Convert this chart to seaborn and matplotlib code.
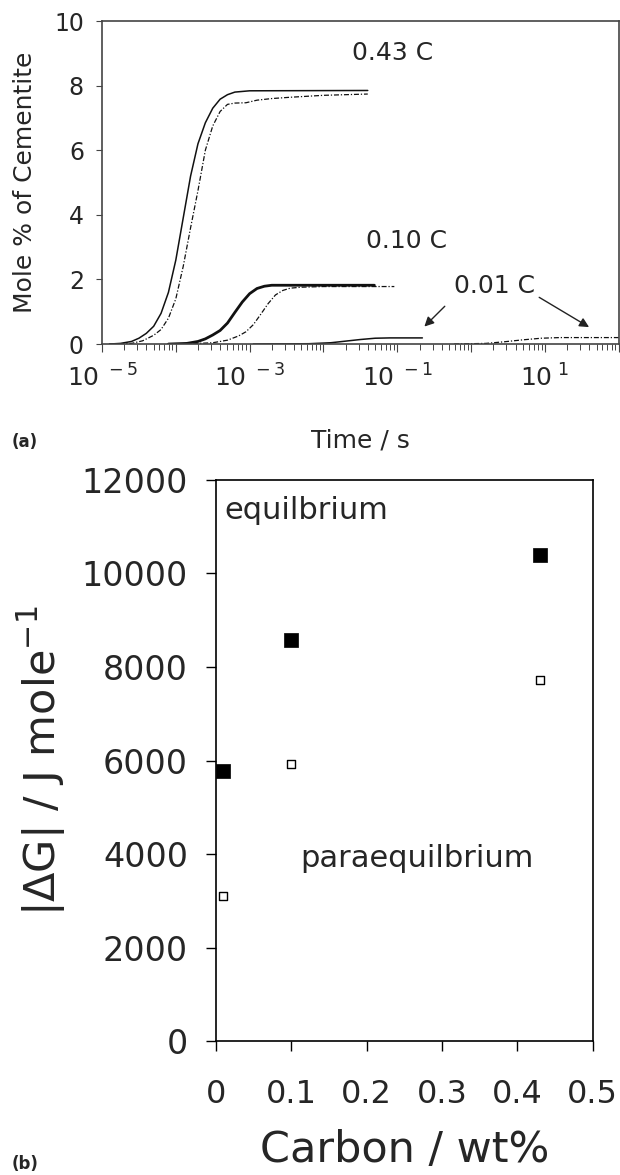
import numpy as np
import pandas as pd
import matplotlib
matplotlib.use('Agg')
import matplotlib.pyplot as plt
import matplotlib.ticker as mticker
import seaborn as sns

# (a) mole % cementite vs time -- times stored as log10(t / s)
lt_043_eq = [-4.9, -4.75, -4.6, -4.5, -4.4, -4.3, -4.2, -4.1, -4.0, -3.9, -3.8, -3.7, -3.6, -3.5,
             -3.4, -3.3, -3.2, -3.0, -1.4]
y_043_eq = [0.0, 0.02, 0.08, 0.18, 0.33, 0.55, 0.95, 1.6, 2.6, 3.9, 5.2, 6.2, 6.85, 7.3,
            7.58, 7.72, 7.8, 7.84, 7.85]
lt_043_pe = [-4.9, -4.6, -4.45, -4.3, -4.2, -4.1, -4.0, -3.9, -3.8, -3.7, -3.6, -3.5, -3.4, -3.3,
             -3.2, -3.05, -2.9, -2.7, -2.45, -2.0, -1.4]
y_043_pe = [0.0, 0.02, 0.1, 0.27, 0.45, 0.8, 1.4, 2.4, 3.6, 4.75, 6.0, 6.75, 7.2, 7.42,
            7.46, 7.47, 7.55, 7.6, 7.64, 7.7, 7.74]

lt_010_eq = [-4.1, -3.85, -3.7, -3.6, -3.5, -3.4, -3.3, -3.2, -3.1, -3.0, -2.9, -2.8, -2.7, -1.31]
y_010_eq = [0.0, 0.02, 0.08, 0.16, 0.28, 0.42, 0.65, 0.98, 1.3, 1.56, 1.72, 1.79, 1.82, 1.82]
lt_010_pe = [-3.9, -3.5, -3.3, -3.15, -3.05, -2.95, -2.85, -2.75, -2.65, -2.55, -2.45, -2.3, -2.0, -1.04]
y_010_pe = [0.0, 0.04, 0.12, 0.25, 0.38, 0.6, 0.92, 1.25, 1.52, 1.66, 1.73, 1.76, 1.78, 1.78]

lt_001_eq = [-2.95, -2.2, -1.9, -1.7, -1.5, -1.3, -1.1, -0.66]
y_001_eq = [0.0, 0.01, 0.04, 0.09, 0.14, 0.18, 0.19, 0.19]
lt_001_pe = [-0.23, 0.2, 0.45, 0.7, 0.95, 1.2, 2.0]
y_001_pe = [0.0, 0.02, 0.07, 0.13, 0.18, 0.2, 0.2]

# (b) driving force vs carbon content
carbon = [0.01, 0.10, 0.43]
dg_equil = [5780, 8580, 10400]
dg_para = [3100, 5930, 7720]

sns.set_style('ticks')
plt.rcParams['font.family'] = ['DejaVu Sans']
plt.rcParams['mathtext.fontset'] = 'dejavusans'

fig = plt.figure(figsize=(6.2, 11.75), dpi=100)
ax1 = fig.add_axes([0.1645, 0.7072, 0.8335, 0.2749])
ax2 = fig.add_axes([0.348, 0.114, 0.608, 0.4775])

# ---- panel (a)
ax1.set_xscale('log')
dash = (0, (4, 1.5, 1, 1.5))
curves = [
    (lt_043_eq, y_043_eq, '-', 1.1),
    (lt_043_pe, y_043_pe, dash, 0.9),
    (lt_010_eq, y_010_eq, '-', 2.0),
    (lt_010_pe, y_010_pe, dash, 0.9),
    (lt_001_eq, y_001_eq, '-', 1.1),
    (lt_001_pe, y_001_pe, dash, 0.9),
]
for lt, y, ls, lw in curves:
    df = pd.DataFrame({'t': 10.0 ** np.array(lt), 'y': y})
    sns.lineplot(data=df, x='t', y='y', ax=ax1, color='#111111', lw=lw,
                 linestyle=ls, estimator=None, sort=False)

ax1.set_xlim(1e-5, 1e2)
ax1.set_ylim(0, 10)
ax1.set_yticks([0, 2, 4, 6, 8, 10])
ax1.xaxis.set_major_locator(mticker.FixedLocator(10.0 ** np.arange(-5, 3)))
ax1.xaxis.set_minor_locator(mticker.LogLocator(base=10, subs=np.arange(2, 10), numticks=20))
ax1.set_xticklabels(['10$^{\\ -5}$', '', '10$^{\\ -3}$', '', '10$^{\\ -1}$', '', '10$^{\\ 1}$', ''])
ax1.xaxis.set_minor_formatter(mticker.NullFormatter())
ax1.tick_params(axis='both', labelsize=17, color='#444444', direction='out')
ax1.tick_params(axis='x', which='major', length=6, pad=9, labelsize=18)
ax1.tick_params(axis='x', which='minor', length=4)
ax1.tick_params(axis='y', length=4, pad=9)
for sp in ax1.spines.values():
    sp.set_color('#444444')
    sp.set_linewidth(1.2)
ax1.set_xlabel('Time / s', fontsize=18, labelpad=26)
ax1.set_ylabel('Mole % of Cementite', fontsize=18, labelpad=12)

ax1.text(10 ** -1.06, 9.0, '0.43 C', fontsize=18, ha='center', va='center')
ax1.text(10 ** -0.88, 3.18, '0.10 C', fontsize=18, ha='center', va='center')
ax1.text(10 ** 0.32, 1.79, '0.01 C', fontsize=18, ha='center', va='center')
arrow = dict(arrowstyle='-|>', color='#222222', lw=1, mutation_scale=14)
ax1.annotate('', xy=(10 ** -0.66, 0.48), xytext=(10 ** -0.33, 1.23), arrowprops=arrow)
ax1.annotate('', xy=(10 ** 1.63, 0.48), xytext=(10 ** 0.89, 1.49), arrowprops=arrow)

# ---- panel (b)
sns.scatterplot(x=carbon, y=dg_equil, marker='s', s=110, color='black',
                edgecolor='black', linewidth=0.5, ax=ax2, zorder=3)
sns.scatterplot(x=carbon, y=dg_para, marker='s', s=40, facecolor='white',
                edgecolor='black', linewidth=1.0, ax=ax2, zorder=3)
ax2.set_xlim(0, 0.5)
ax2.set_ylim(0, 12000)
ax2.set_xticks([0, 0.1, 0.2, 0.3, 0.4, 0.5])
ax2.set_xticklabels(['0', '0.1', '0.2', '0.3', '0.4', '0.5'])
ax2.set_yticks(np.arange(0, 12001, 2000))
ax2.tick_params(axis='both', labelsize=23, color='black', direction='out', width=1)
ax2.tick_params(axis='y', labelsize=24)
ax2.tick_params(axis='x', length=7, pad=20)
ax2.tick_params(axis='y', length=7, pad=13)
for sp in ax2.spines.values():
    sp.set_color('black')
    sp.set_linewidth(1.2)
ax2.set_xlabel('Carbon / wt%', fontsize=31, labelpad=14)
ax2.set_ylabel('|\u0394G| / J mole$^{-1}$', fontsize=31, labelpad=10)
ax2.text(0.012, 11350, 'equilbrium', fontsize=22, ha='left', va='center')
ax2.text(0.267, 3900, 'paraequilbrium', fontsize=22, ha='center', va='center')

fig.text(0.019, 1 - 442 / 1175, '(a)', fontsize=12, fontweight='bold', va='center')
fig.text(0.019, 1 - 1164 / 1175, '(b)', fontsize=12, fontweight='bold', va='center')

fig.savefig('out.png', dpi=100)
